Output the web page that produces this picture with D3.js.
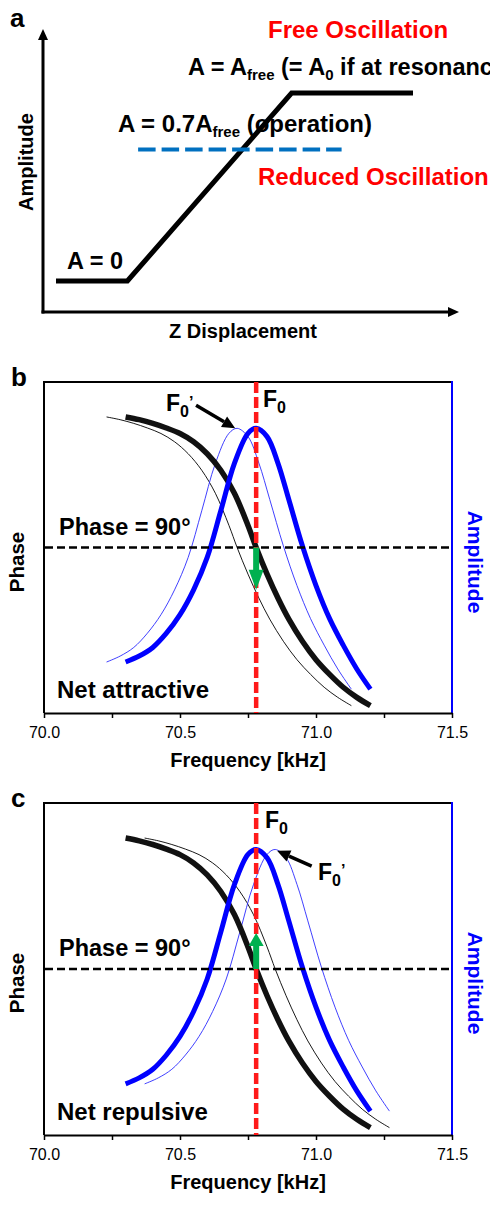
<!DOCTYPE html>
<html>
<head>
<meta charset="utf-8">
<script src="https://cdn.jsdelivr.net/npm/d3@7"></script>
<style>
body{margin:0;padding:0;background:#fff;overflow:hidden}
text{font-family:"Liberation Sans",Arial,sans-serif}
</style>
</head>
<body>
<script>
// panel a : schematic amplitude vs Z displacement
const zPos = [0, 2, 6.6, 10];
const ampZ = [0, 0, 1, 1];
const zOperation = [2.3, 8.0];
const ampOperation = 0.7;

// panels b and c : resonance curves
const freqTicks = [70.0, 70.25, 70.5, 70.75, 71.0, 71.25, 71.5];
const freqLabels = ["70.0", "", "70.5", "", "71.0", "", "71.5"];
const f0 = 70.78;

const freqFree = [70.30,70.35,70.40,70.45,70.50,70.55,70.60,70.65,70.70,70.75,70.78,70.82,70.86,70.90,70.95,71.00,71.05,71.10,71.15,71.20];
const freqAttractive = [70.23,70.28,70.33,70.38,70.43,70.48,70.53,70.58,70.63,70.68,70.71,70.75,70.79,70.83,70.88,70.93,70.98,71.03,71.08,71.13];
const freqRepulsive = [70.37,70.42,70.47,70.52,70.57,70.62,70.67,70.72,70.77,70.82,70.85,70.89,70.93,70.97,71.02,71.07,71.12,71.17,71.22,71.27];
const phaseVals = [161,159.5,157.5,155,152,147.5,141,132,119.5,102,90,75.5,62.5,51,39,29,21,14,8.5,4];
const ampVals = [0.154,0.172,0.198,0.241,0.297,0.372,0.470,0.611,0.754,0.845,0.860,0.835,0.755,0.645,0.505,0.385,0.285,0.205,0.133,0.072];

const svg = d3.select("body").append("svg").attr("width",490).attr("height",1205);

// ---------------- panel a
const ax = d3.scaleLinear().domain([0,10]).range([56,413]);
const ay = d3.scaleLinear().domain([0,1]).range([281,93]);
const gA = svg.append("g");

gA.append("line").attr("x1",43).attr("y1",313.5).attr("x2",43).attr("y2",38)
  .attr("stroke","#000").attr("stroke-width",3);
gA.append("path").attr("d","M43,29 L38,40 L48,40 Z").attr("fill","#000");
gA.append("line").attr("x1",41.5).attr("y1",312).attr("x2",449).attr("y2",312)
  .attr("stroke","#000").attr("stroke-width",3);
gA.append("path").attr("d","M459,312 L448,307 L448,317 Z").attr("fill","#000");

const approach = zPos.map((z,i)=>[z, ampZ[i]]);
gA.append("path")
  .attr("d", d3.line().x(d=>ax(d[0])).y(d=>ay(d[1]))(approach))
  .attr("fill","none").attr("stroke","#000").attr("stroke-width",5);

gA.append("line")
  .attr("x1",ax(zOperation[0])).attr("x2",ax(zOperation[1]))
  .attr("y1",ay(ampOperation)).attr("y2",ay(ampOperation))
  .attr("stroke","#0070C0").attr("stroke-width",4).attr("stroke-dasharray","17.5,6");

gA.append("text").attr("x",10).attr("y",27).text("a")
  .style("font-size","26px").style("font-weight","bold");
gA.append("text").attr("x",268).attr("y",38).text("Free Oscillation")
  .style("font-size","24px").style("font-weight","bold").attr("fill","#FF0000");
gA.append("text").attr("x",258).attr("y",185).text("Reduced Oscillation")
  .style("font-size","24px").style("font-weight","bold").attr("fill","#FF0000");

const t1 = gA.append("text").attr("x",188).attr("y",75)
  .style("font-size","23.5px").style("font-weight","bold");
t1.append("tspan").text("A = A");
t1.append("tspan").text("free").style("font-size","15px").attr("dy",5);
t1.append("tspan").text(" (= A").attr("dy",-5);
t1.append("tspan").text("0").style("font-size","15px").attr("dy",5);
t1.append("tspan").text(" if at resonance)").attr("dy",-5);

const t2 = gA.append("text").attr("x",118).attr("y",132)
  .style("font-size","24px").style("font-weight","bold");
t2.append("tspan").text("A = 0.7A");
t2.append("tspan").text("free").style("font-size","15px").attr("dy",5);
t2.append("tspan").text(" (operation)").attr("dy",-5);

gA.append("text").attr("x",67).attr("y",269).text("A = 0")
  .style("font-size","23.5px").style("font-weight","bold");
gA.append("text").attr("x",243).attr("y",338).attr("text-anchor","middle").text("Z Displacement")
  .style("font-size","20px").style("font-weight","bold");
gA.append("text").attr("transform","translate(33,162) rotate(-90)").attr("text-anchor","middle")
  .text("Amplitude").style("font-size","20px").style("font-weight","bold");

// ---------------- panels b and c
function drawPanel(top, bottom, o) {
  const g = svg.append("g");
  const x = d3.scaleLinear().domain([70,71.5]).range([44,452]);
  const yP = d3.scaleLinear().domain([0,180]).range([bottom,top]);
  const yA = d3.scaleLinear().domain([0,1]).range([bottom,top]);

  const curve = d3.curveCatmullRom.alpha(0.5);
  const phaseLine = d3.line().curve(curve).x(d=>x(d[0])).y(d=>yP(d[1]));
  const ampLine = d3.line().curve(curve).x(d=>x(d[0])).y(d=>yA(d[1]));

  const thinPhase = o.freqShifted.map((f,i)=>[f, phaseVals[i]]);
  const thinAmp = o.freqShifted.map((f,i)=>[f, ampVals[i]]);
  const thickPhase = freqFree.map((f,i)=>[f, phaseVals[i]]);
  const thickAmp = freqFree.map((f,i)=>[f, ampVals[i]]);

  // frame
  g.append("line").attr("x1",44).attr("x2",452).attr("y1",top).attr("y2",top)
    .attr("stroke","#000").attr("stroke-width",2);
  g.append("line").attr("x1",44).attr("x2",44).attr("y1",top-1).attr("y2",bottom)
    .attr("stroke","#000").attr("stroke-width",2);
  g.append("line").attr("x1",452).attr("x2",452).attr("y1",top-1).attr("y2",bottom+1)
    .attr("stroke","#0000FF").attr("stroke-width",2);

  const axis = g.append("g").attr("transform",`translate(0,${bottom})`)
    .call(d3.axisBottom(x).tickValues(freqTicks).tickFormat((d,i)=>freqLabels[i])
      .tickSize(5).tickSizeOuter(0).tickPadding(9));
  axis.select(".domain").attr("stroke-width",2);
  axis.selectAll(".tick line").attr("stroke-width",1.5);
  axis.selectAll("text").style("font-size","16px").style("font-family","'Liberation Sans',Arial,sans-serif");

  g.append("text").attr("x",248).attr("y",bottom+54).attr("text-anchor","middle")
    .text("Frequency [kHz]").style("font-size","20px").style("font-weight","bold");
  g.append("text").attr("transform",`translate(24,${top+180}) rotate(-90)`).attr("text-anchor","middle")
    .text("Phase").style("font-size","20.5px").style("font-weight","bold");
  g.append("text").attr("transform",`translate(468,${top+180}) rotate(90)`).attr("text-anchor","middle")
    .text("Amplitude").style("font-size","21px").style("font-weight","bold").attr("fill","#0000FF");
  g.append("text").attr("x",11).attr("y",top+4).text(o.letter)
    .style("font-size","26px").style("font-weight","bold");

  // curves
  g.append("path").attr("d",phaseLine(thinPhase)).attr("fill","none").attr("stroke","#000").attr("stroke-width",0.9);
  g.append("path").attr("d",ampLine(thinAmp)).attr("fill","none").attr("stroke","#2a2aff").attr("stroke-width",0.9);
  g.append("path").attr("d",phaseLine(thickPhase)).attr("fill","none").attr("stroke","#111").attr("stroke-width",5.5);
  g.append("path").attr("d",ampLine(thickAmp)).attr("fill","none").attr("stroke","#0000FF").attr("stroke-width",5);

  // reference lines
  g.append("line").attr("x1",45).attr("x2",451).attr("y1",yP(90)).attr("y2",yP(90))
    .attr("stroke","#000").attr("stroke-width",2.5).attr("stroke-dasharray","8,4");
  g.append("line").attr("x1",x(f0)).attr("x2",x(f0)).attr("y1",top).attr("y2",bottom)
    .attr("stroke","#FF1a1a").attr("stroke-width",4.5).attr("stroke-dasharray","11,4");

  // green phase-shift arrow
  const gx = x(f0), y0 = yP(90), y1 = yP(o.phaseTo);
  const dir = Math.sign(y1 - y0), yh = y1 - dir*o.headLen;
  g.append("path")
    .attr("d",`M${gx-3},${y0} L${gx+3},${y0} L${gx+3},${yh} L${gx+7.5},${yh} L${gx},${y1} L${gx-7.5},${yh} L${gx-3},${yh} Z`)
    .attr("fill","#00B050");

  // F0' pointer
  const p0 = [x(o.ptrFrom[0]), yA(o.ptrFrom[1])], p1 = [x(o.ptrTo[0]), yA(o.ptrTo[1])];
  const ang = Math.atan2(p1[1]-p0[1], p1[0]-p0[0]);
  const hl = 13, hw = 6;
  const base = [p1[0]-hl*Math.cos(ang), p1[1]-hl*Math.sin(ang)];
  g.append("line").attr("x1",p0[0]).attr("y1",p0[1]).attr("x2",base[0]).attr("y2",base[1])
    .attr("stroke","#000").attr("stroke-width",3.5);
  g.append("path").attr("d",`M${p1[0]},${p1[1]} L${base[0]-hw*Math.sin(ang)},${base[1]+hw*Math.cos(ang)} L${base[0]+hw*Math.sin(ang)},${base[1]-hw*Math.cos(ang)} Z`)
    .attr("fill","#000");

  // labels
  const lf = g.append("text").attr("x",o.f0Pos[0]).attr("y",o.f0Pos[1])
    .style("font-size","23px").style("font-weight","bold");
  lf.append("tspan").text("F");
  lf.append("tspan").text("0").style("font-size","16px").attr("dy",6);

  const lp = g.append("text").attr("x",o.f0pPos[0]).attr("y",o.f0pPos[1])
    .style("font-size","23px").style("font-weight","bold");
  lp.append("tspan").text("F");
  lp.append("tspan").text("0").style("font-size","16px").attr("dy",6);
  lp.append("tspan").text("\u2019").style("font-size","16px").attr("dy",o.primeDy);

  g.append("text").attr("x",59).attr("y",yP(90)-13).text("Phase = 90°")
    .style("font-size","23.5px").style("font-weight","bold");
  g.append("text").attr("x",57).attr("y",bottom-15).text(o.regime)
    .style("font-size","24px").style("font-weight","bold");
}

drawPanel(382, 713, {
  letter: "b", freqShifted: freqAttractive, phaseTo: 67, headLen: 20,
  ptrFrom: [70.559, 0.93], ptrTo: [70.703, 0.86],
  f0Pos: [263, 407], f0pPos: [166, 411], primeDy: -9,
  regime: "Net attractive"
});
drawPanel(803, 1135, {
  letter: "c", freqShifted: freqRepulsive, phaseTo: 109.5, headLen: 13,
  ptrFrom: [70.984, 0.81], ptrTo: [70.857, 0.856],
  f0Pos: [265, 828], f0pPos: [318, 880], primeDy: -10,
  regime: "Net repulsive"
});
</script>
</body>
</html>
